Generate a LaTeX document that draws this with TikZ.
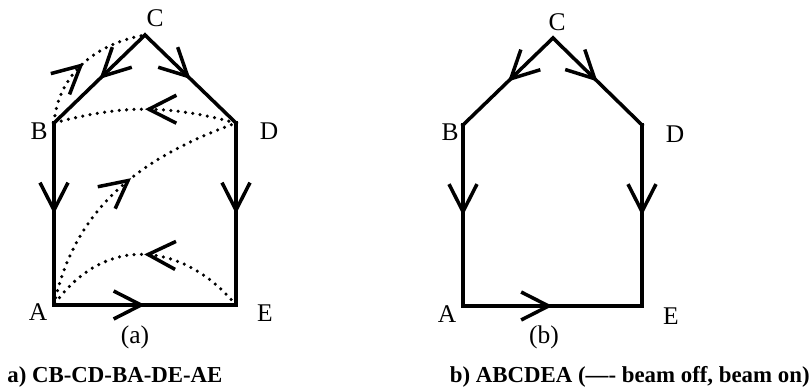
\documentclass[tikz,border=0pt]{standalone}
\usepackage{fontspec}
\setmainfont{Liberation Serif}
\usetikzlibrary{arrows.meta,calc,decorations.markings}
\tikzset{vbarb/.tip={Straight Barb[length=0.55cm,width=0.56cm]}}

\begin{document}
\begin{tikzpicture}[
  every node/.style={font=\fontsize{14.5}{16}\selectfont},
  beamon/.style={line width=2pt, line cap=rect, postaction={decorate},
    decoration={markings, mark=at position 0.5 with {\arrow{vbarb}}}},
  beamoff/.style={line width=2pt, line cap=round, dash pattern=on 0pt off 4.2pt, postaction={decorate},
    decoration={markings, mark=at position #1 with {\arrow[solid]{vbarb}}}},
  beamoff/.default=0.5,
  capt/.style={font=\fontsize{13}{15}\selectfont\bfseries, inner sep=0pt}
]
\useasboundingbox (0,0) rectangle (16.22,7.82);

% (a) corner points
\coordinate (aC) at (2.90,7.12);
\coordinate (aB) at (1.08,5.36);
\coordinate (aD) at (4.72,5.36);
\coordinate (aA) at (1.08,1.72);
\coordinate (aE) at (4.72,1.72);

% (a) beam on
\draw[beamon] (aC) -- (aB);
\draw[beamon] (aC) -- (aD);
\draw[beamon] (aB) -- (aA);
\draw[beamon] (aD) -- (aE);
\draw[beamon] (aA) -- (aE);

% (a) beam off moves
\draw[beamoff] (aB) to[out=85,in=190] (aC);
\draw[beamoff] (aD) to[out=165,in=15] (aB);
\draw[beamoff=0.56] (aA) to[out=78,in=200] (aD);
\draw[beamoff] (aE) to[out=130,in=55,looseness=1.2] (aA);

\node (aCl) at ($(aC)+(0.20,0.34)$) {C};
\node (aBl) at ($(aB)+(-0.30,-0.16)$) {B};
\node (aDl) at ($(aD)+(0.66,-0.16)$) {D};
\node (aAl) at ($(aA)+(-0.32,-0.14)$) {A};
\node (aEl) at ($(aE)+(0.58,-0.16)$) {E};
\node (atag) at (2.70,1.08) {(a)};

% (b) corner points
\coordinate (bC) at (11.06,7.06);
\coordinate (bB) at (9.26,5.32);
\coordinate (bD) at (12.84,5.32);
\coordinate (bA) at (9.26,1.70);
\coordinate (bE) at (12.84,1.70);

% (b) beam on, one pass
\draw[beamon] (bC) -- (bB);
\draw[beamon] (bC) -- (bD);
\draw[beamon] (bB) -- (bA);
\draw[beamon] (bD) -- (bE);
\draw[beamon] (bA) -- (bE);

\node (bCl) at ($(bC)+(0.08,0.32)$) {C};
\node (bBl) at ($(bB)+(-0.26,-0.14)$) {B};
\node (bDl) at ($(bD)+(0.66,-0.18)$) {D};
\node (bAl) at ($(bA)+(-0.32,-0.16)$) {A};
\node (bEl) at ($(bE)+(0.58,-0.20)$) {E};
\node (btag) at (10.88,1.08) {(b)};

% captions
\node[capt, anchor=west] (capa) at (0.14,0.28) {a) CB-CD-BA-DE-AE};
\node[capt, anchor=east] (capb) at (16.20,0.28) {b) ABCDEA (—- beam off, beam on)};
\end{tikzpicture}
\end{document}
